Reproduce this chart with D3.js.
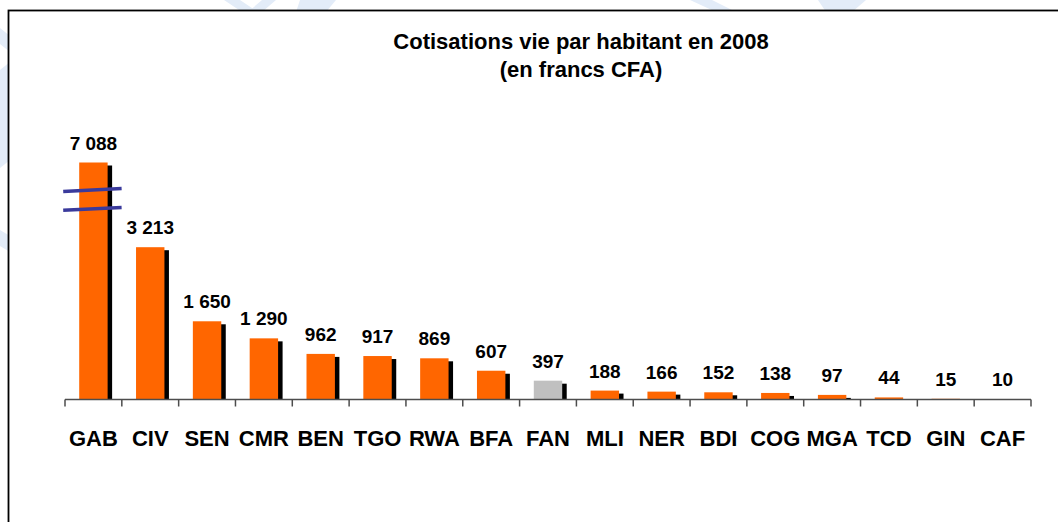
<!DOCTYPE html>
<html>
<head>
<meta charset="utf-8">
<script src="https://cdn.jsdelivr.net/npm/d3@7"></script>
<style>
  body { margin: 0; background: #fff; }
  svg { display: block; font-family: "Liberation Sans", Arial, sans-serif; }
</style>
</head>
<body>
<svg id="chart" width="1058" height="522"></svg>
<script>
// Cotisations vie par habitant en 2008 (en francs CFA)

var countries = ['GAB', 'CIV', 'SEN', 'CMR', 'BEN', 'TGO', 'RWA', 'BFA', 'FAN',
                 'MLI', 'NER', 'BDI', 'COG', 'MGA', 'TCD', 'GIN', 'CAF'];
var cotisations = [7088, 3213, 1650, 1290, 962, 917, 869, 607, 397,
                   188, 166, 152, 138, 97, 44, 15, 10];
var valueLabels = ['7 088', '3 213', '1 650', '1 290', '962', '917', '869', '607', '397',
                   '188', '166', '152', '138', '97', '44', '15', '10'];
var highlighted = ['FAN'];   // grey bar
var axisMax = 5000;          // axis is cut, GAB bar goes above it
var breakValues = [4420, 4020];

var svg = d3.select('#chart');
var width = 1058, height = 522;

// faint watermark peeking out round the frame
var wm = svg.append('g').attr('fill', '#e3ecf8');
[
  [[224, 0], [240, 0], [258, 12], [242, 12]],
  [[262, 0], [276, 0], [262, 12], [248, 12]],
  [[300, 0], [336, 0], [326, 12], [296, 12]],
  [[690, 0], [712, 0], [736, 12], [716, 12]],
  [[818, 0], [866, 0], [852, 12], [826, 12]],
  [[0, 28], [10, 36], [10, 52], [0, 44]],
  [[0, 70], [10, 62], [10, 160], [0, 168]],
  [[0, 230], [10, 236], [10, 252], [0, 246]]
].forEach(function(pts) {
  wm.append('polygon').attr('points', pts.map(function(p) { return p.join(','); }).join(' '));
});

// frame (runs off the right and bottom of the picture)
svg.append('rect')
  .attr('x', 8.5).attr('y', 10.5)
  .attr('width', width + 20).attr('height', height + 20)
  .attr('fill', '#fff')
  .attr('stroke', '#000')
  .attr('stroke-width', 1.8);

// title
var title = svg.append('text')
  .attr('text-anchor', 'middle')
  .attr('font-weight', 'bold')
  .attr('font-size', 22)
  .attr('fill', '#000');
title.append('tspan').attr('x', 581).attr('y', 49).text('Cotisations vie par habitant en 2008');
title.append('tspan').attr('x', 581).attr('y', 77).text('(en francs CFA)');

// scales
var x = d3.scaleBand()
  .domain(countries)
  .range([65, 1031])
  .paddingInner(0.5)
  .paddingOuter(0.25);

var y = d3.scaleLinear()
  .domain([0, axisMax])
  .range([399.5, 162.5]);

var data = countries.map(function(c, i) {
  return { code: c, value: cotisations[i], label: valueLabels[i] };
});

function barTop(d) { return y(Math.min(d.value, axisMax)); }

// shadows
svg.append('g').selectAll('rect')
  .data(data)
  .enter().append('rect')
  .attr('x', function(d) { return x(d.code) + 4.5; })
  .attr('y', function(d) { return barTop(d) + 3; })
  .attr('width', x.bandwidth())
  .attr('height', function(d) { return Math.max(0, y(0) - barTop(d) - 3); })
  .attr('fill', '#000');

// bars
svg.append('g').selectAll('rect')
  .data(data)
  .enter().append('rect')
  .attr('x', function(d) { return x(d.code); })
  .attr('y', barTop)
  .attr('width', x.bandwidth())
  .attr('height', function(d) { return y(0) - barTop(d); })
  .attr('fill', function(d) { return highlighted.indexOf(d.code) >= 0 ? '#c0c0c0' : '#ff6600'; });

// axis with ticks between categories
var step = x.step();
var boundaries = d3.range(countries.length + 1).map(function(i) { return x.range()[0] + i * step; });
var axisG = svg.append('g').attr('stroke', '#4d4d4d').attr('stroke-width', 1.5);
axisG.append('line')
  .attr('x1', x.range()[0]).attr('x2', x.range()[1])
  .attr('y1', y(0)).attr('y2', y(0));
axisG.selectAll('line.tick')
  .data(boundaries)
  .enter().append('line')
  .attr('class', 'tick')
  .attr('x1', function(d) { return d; }).attr('x2', function(d) { return d; })
  .attr('y1', y(0)).attr('y2', y(0) + 7);

// category labels
svg.append('g').selectAll('text')
  .data(countries)
  .enter().append('text')
  .attr('x', function(d) { return x(d) + x.bandwidth() / 2; })
  .attr('y', 446)
  .attr('text-anchor', 'middle')
  .attr('font-weight', 'bold')
  .attr('font-size', 22)
  .text(function(d) { return d; });

// value labels
svg.append('g').selectAll('text')
  .data(data)
  .enter().append('text')
  .attr('x', function(d) { return x(d.code) + x.bandwidth() / 2; })
  .attr('y', function(d) { return barTop(d) - 13; })
  .attr('text-anchor', 'middle')
  .attr('font-weight', 'bold')
  .attr('font-size', 19)
  .text(function(d) { return d.label; });

// axis break marks across the GAB bar
var gx0 = x('GAB') - 16, gx1 = x('GAB') + x.bandwidth() + 14;
svg.append('g').selectAll('line')
  .data(breakValues)
  .enter().append('line')
  .attr('x1', gx0).attr('x2', gx1)
  .attr('y1', function(v) { return y(v) + 1.4; })
  .attr('y2', function(v) { return y(v) - 1.4; })
  .attr('stroke', '#3a3a9c')
  .attr('stroke-width', 3.5);
</script>
</body>
</html>
